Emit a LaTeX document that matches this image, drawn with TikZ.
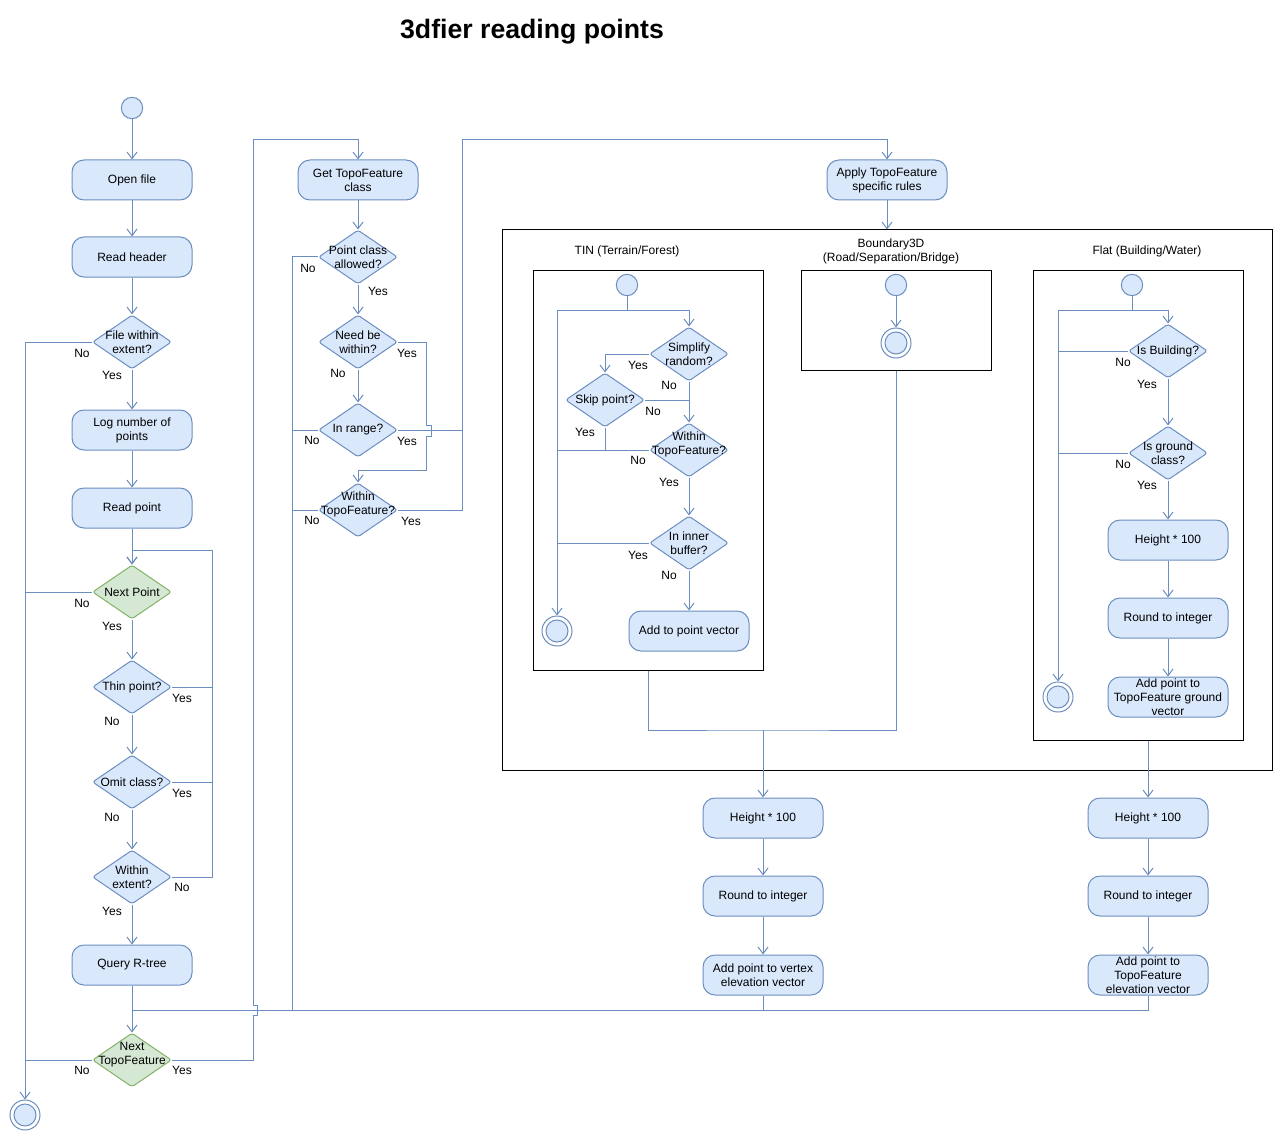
\documentclass[tikz,border=0pt]{standalone}
\usepackage{fontspec}
\setmainfont{Liberation Sans}
\usetikzlibrary{arrows.meta,shapes.geometric,calc}
\definecolor{bf}{HTML}{DAE8FC}
\definecolor{bc}{HTML}{6C8EBF}
\definecolor{gf}{HTML}{D5E8D4}
\definecolor{gc}{HTML}{82B366}
\begin{document}
\begin{tikzpicture}[x=0.75pt,y=-0.75pt,
  every node/.style={font=\fontsize{9}{10.5}\selectfont},
  act/.style={draw=bc,fill=bf,rounded corners=9pt,minimum width=90pt,minimum height=30pt,align=center,inner sep=0pt,line width=0.75pt},
  dia/.style={draw=bc,fill=bf,diamond,rounded corners=2pt,minimum width=59.25pt,minimum height=40.5pt,inner sep=0pt,line width=0.75pt},
  gdia/.style={dia,draw=gc,fill=gf},
  dt/.style={label={[align=center,inner sep=0pt]center:#1}},
  dts/.style={label={[align=center,inner sep=0pt,yshift=4pt]center:#1}},
  startst/.style={circle,draw=bc,fill=bf,minimum size=16pt,inner sep=0pt,line width=0.75pt},
  endst/.style={circle,draw=bc,fill=white,minimum size=22.5pt,inner sep=0pt,line width=0.75pt,
     label={[circle,draw=bc,fill=bf,minimum size=16.5pt,inner sep=0pt,line width=0.75pt]center:}},
  cont/.style={draw=black,line width=0.75pt,inner sep=0pt},
  ln/.style={draw=bc,line width=0.75pt},
  arr/.style={ln,-{Straight Barb[length=5pt,width=7.5pt]}},
  lab/.style={inner sep=0pt},
  ]
\useasboundingbox (0,0) rectangle (1284,1141);

\node[font=\bfseries\fontsize{20}{24}\selectfont] (title) at (532,32) {3dfier reading points};

% ---------- left column ----------
\node[startst] (s0) at (132,108) {};
\node[act] (of) at (132,180) {Open file};
\node[act] (rh) at (132,257) {Read header};
\node[dia,dt={File within\\extent?}] (fwe) at (132,342) {};
\node[act] (lnp) at (132,430) {Log number of\\points};
\node[act] (rp) at (132,508) {Read point};
\node[gdia,dt={Next Point}] (np) at (132,592) {};
\node[dia,dt={Thin point?}] (tp) at (132,687) {};
\node[dia,dt={Omit class?}] (oc) at (132,782) {};
\node[dia,dt={Within\\extent?}] (we) at (132,877) {};
\node[act] (qr) at (132,965) {Query R-tree};
\node[gdia,dts={Next\\TopoFeature}] (ntf) at (132,1060) {};
\node[endst] (e0) at (25,1115) {};

\draw[arr] (s0) -- (of);
\draw[arr] (of) -- (rh);
\draw[arr] (rh) -- (fwe);
\draw[arr] (fwe) -- (lnp);
\draw[arr] (lnp) -- (rp);
\draw[arr] (rp) -- (np);
\draw[arr] (np) -- (tp);
\draw[arr] (tp) -- (oc);
\draw[arr] (oc) -- (we);
\draw[arr] (we) -- (qr);
\draw[arr] (qr) -- (ntf);

\draw[arr] (fwe.west) -| (e0.north);
\draw[ln] (np.west) -- (np.west -| e0.north);
\draw[ln] (ntf.west) -- (ntf.west -| e0.north);

\coordinate (lp) at (212,550);
\draw[arr] (we.east) -| (lp) -- (lp -| np.north) -- (np.north);
\draw[ln] (tp.east) -- (tp.east -| lp);
\draw[ln] (oc.east) -- (oc.east -| lp);

\node[lab] (l01) at (82,353) {No};
\node[lab] (l02) at (112,375) {Yes};
\node[lab] (l03) at (82,603) {No};
\node[lab] (l04) at (112,626) {Yes};
\node[lab] (l05) at (182,698) {Yes};
\node[lab] (l06) at (112,721) {No};
\node[lab] (l07) at (182,793) {Yes};
\node[lab] (l08) at (112,817) {No};
\node[lab] (l09) at (182,887) {No};
\node[lab] (l10) at (112,911) {Yes};
\node[lab] (l11) at (82,1070) {No};
\node[lab] (l12) at (182,1070) {Yes};

% ---------- middle column ----------
\node[act] (gtf) at (358,180) {Get TopoFeature\\class};
\node[dia,dt={Point class\\allowed?}] (pca) at (358,257) {};
\node[dia,dt={Need be\\within?}] (nbw) at (358,342) {};
\node[dia,dt={In range?}] (ir) at (358,430) {};
\node[dia,dts={Within\\TopoFeature?}] (wtf) at (358,510) {};

\draw[arr] (gtf) -- (pca);
\draw[arr] (pca) -- (nbw);
\draw[arr] (nbw) -- (ir);

\coordinate (m292) at (292,1010);
\draw[ln] (pca.west) -| (m292);
\draw[ln] (ir.west) -- (ir.west -| m292);
\draw[ln] (wtf.west) -- (wtf.west -| m292);

\coordinate (nb1) at (426,425);
\coordinate (nb2) at (431,436);
\coordinate (nb3) at (426,470);
\draw[arr] (nbw.east) -| (nb1) -- (nb1 -| nb2) -- (nb2) -- (nb2 -| nb1) -- (nb3) -| (wtf.north);

\node[act] (atf) at (887,180) {Apply TopoFeature\\specific rules};
\coordinate (r1) at (462,140);
\draw[arr] (ir.east) -| (r1) -| (atf.north);
\draw[ln] (wtf.east) -| (ir.east -| r1);

\coordinate (hop1) at (253,1015);
\coordinate (hop2) at (257,1005);
\coordinate (tl) at (253,140);
\draw[arr] (ntf.east) -| (hop1) -- (hop1 -| hop2) -- (hop2) -- (hop2 -| tl) -- (tl) -| (gtf.north);

\node[lab] (l13) at (308,268) {No};
\node[lab] (l14) at (378,291) {Yes};
\node[lab] (l15) at (407,353) {Yes};
\node[lab] (l16) at (338,373) {No};
\node[lab] (l17) at (312,440) {No};
\node[lab] (l18) at (407,441) {Yes};
\node[lab] (l19) at (312,520) {No};
\node[lab] (l20) at (411,521) {Yes};

% ---------- containers ----------
\node[cont,minimum width=577.5pt,minimum height=405pt] (big) at (887,500) {};
\node[cont,minimum width=172.5pt,minimum height=300pt] (tin) at (648,470) {};
\node[cont,minimum width=142.5pt,minimum height=75pt] (bd) at (896,320) {};
\node[cont,minimum width=157.5pt,minimum height=352.5pt] (flat) at (1138,505) {};
\draw[arr] (atf.south) -- (big.north);

\node (ltin) at (627,251) {TIN (Terrain/Forest)};
\node[align=center] (lbd) at (891,251) {Boundary3D\\(Road/Separation/Bridge)};
\node (lflat) at (1147,251) {Flat (Building/Water)};

% ---------- TIN ----------
\node[startst] (t0) at (627,285) {};
\coordinate (t1) at (627,310);
\node[dia,dt={Simplify\\random?}] (sr) at (689,354) {};
\node[dia,dt={Skip point?}] (sk) at (605,400) {};
\node[dia,dts={Within\\TopoFeature?}] (wt) at (689,450) {};
\node[dia,dt={In inner\\buffer?}] (ib) at (689,543) {};
\node[act] (apv) at (689,631) {Add to point vector};
\node[endst] (te) at (557,631) {};

\draw[ln] (t0) -- (t1);
\draw[arr] (t1) -| (sr.north);
\draw[arr] (t1) -| (te.north);
\draw[arr] (sr.west) -| (sk.north);
\draw[arr] (sr.south) -- (wt.north);
\draw[ln] (sk.east) -- (sk.east -| sr.south);
\draw[ln] (sk.south) -- (sk.south |- wt.west);
\draw[ln] (wt.west) -- (wt.west -| te.north);
\draw[arr] (wt.south) -- (ib.north);
\draw[ln] (ib.west) -- (ib.west -| te.north);
\draw[arr] (ib.south) -- (apv.north);

\node[lab] (l21) at (638,365) {Yes};
\node[lab] (l22) at (669,385) {No};
\node[lab] (l23) at (653,411) {No};
\node[lab] (l24) at (585,432) {Yes};
\node[lab] (l25) at (638,460) {No};
\node[lab] (l26) at (669,482) {Yes};
\node[lab] (l27) at (638,555) {Yes};
\node[lab] (l28) at (669,575) {No};

% ---------- Boundary3D ----------
\node[startst] (b0) at (896,285) {};
\node[endst] (be) at (896,343) {};
\draw[arr] (b0) -- (be);

% ---------- Flat ----------
\node[startst] (f0) at (1132,285) {};
\coordinate (f1) at (1132,310);
\node[dia,dt={Is Building?}] (isb) at (1168,351) {};
\node[dia,dt={Is ground\\class?}] (igc) at (1168,453) {};
\node[act] (fh) at (1168,540) {Height * 100};
\node[act] (fr) at (1168,618) {Round to integer};
\node[act] (fa) at (1168,697) {Add point to\\TopoFeature ground\\vector};
\node[endst] (fe) at (1058,697) {};

\draw[ln] (f0) -- (f1);
\draw[arr] (f1) -| (isb.north);
\draw[arr] (f1) -| (fe.north);
\draw[ln] (isb.west) -- (isb.west -| fe.north);
\draw[arr] (isb) -- (igc);
\draw[ln] (igc.west) -- (igc.west -| fe.north);
\draw[arr] (igc) -- (fh);
\draw[arr] (fh) -- (fr);
\draw[arr] (fr) -- (fa);

\node[lab] (l29) at (1123,362) {No};
\node[lab] (l30) at (1147,384) {Yes};
\node[lab] (l31) at (1123,464) {No};
\node[lab] (l32) at (1147,485) {Yes};

% ---------- bottom ----------
\node[act] (h1) at (763,818) {Height * 100};
\node[act] (r1n) at (763,896) {Round to integer};
\node[act] (a1) at (763,975) {Add point to vertex\\elevation vector};
\node[act] (h2) at (1148,818) {Height * 100};
\node[act] (r2n) at (1148,896) {Round to integer};
\node[act] (a2) at (1148,975) {Add point to\\TopoFeature\\elevation vector};

\coordinate (mj) at (763,730);
\draw[ln] (tin.south) |- (mj) -| (bd.south);
\draw[arr] (mj) -- (h1.north);
\draw[arr] (flat.south -| h2.north) -- (h2.north);
\draw[arr] (h1) -- (r1n);
\draw[arr] (r1n) -- (a1);
\draw[arr] (h2) -- (r2n);
\draw[arr] (r2n) -- (a2);

\coordinate (jn) at (132,1010);
\draw[ln] (a2.south) |- (jn);
\draw[ln] (a1.south) -- (a1.south |- jn);
\end{tikzpicture}
\end{document}
